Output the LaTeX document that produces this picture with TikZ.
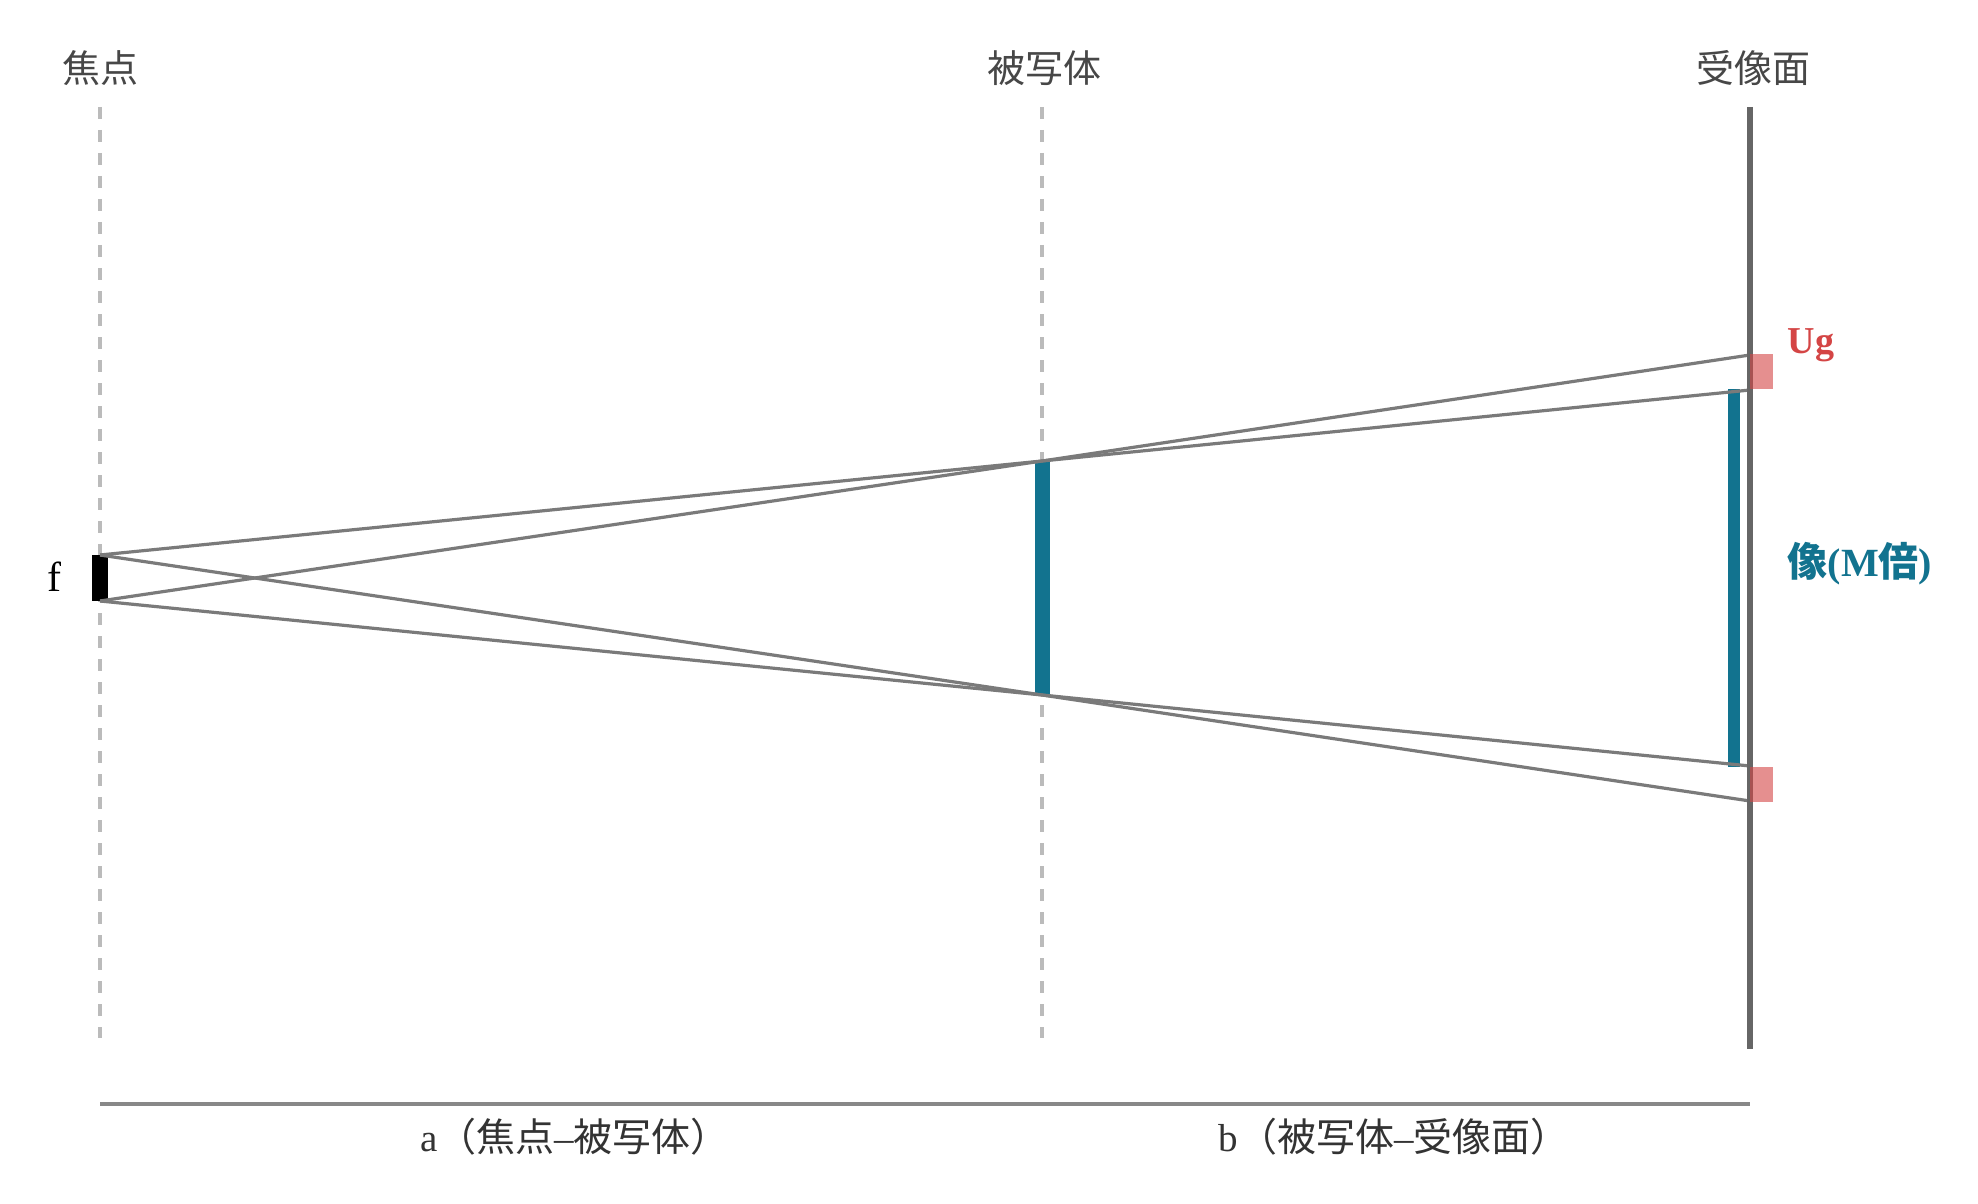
\documentclass[tikz,border=0pt]{standalone}
\usepackage{fontspec}
\setmainfont{Liberation Serif}
\newfontfamily\jpfont{Noto Sans CJK JP}
\definecolor{guidegray}{HTML}{BBBBBB}
\definecolor{raygray}{HTML}{7A7A7A}
\definecolor{screengray}{HTML}{666666}
\definecolor{axisgray}{HTML}{888888}
\definecolor{labelgray}{HTML}{474747}
\definecolor{imgblue}{HTML}{12738F}
\definecolor{ugred}{HTML}{D44545}

\begin{document}
\begin{tikzpicture}[x=0.5pt,y=-0.5pt,
    guide/.style={draw=guidegray,line width=2pt,dash pattern=on 6pt off 5.5pt},
    ray/.style={draw=raygray,line width=1.6pt},
    title/.style={text=labelgray,inner sep=0pt,font=\fontsize{19}{21}\selectfont\jpfont}]
    \tikzstyle{bar}=[draw=imgblue]
    \tikzstyle{dist}=[text=black!80,inner sep=0pt,font=\fontsize{19.5}{22}\selectfont]
    \useasboundingbox (0,0) rectangle (1978,1204);

    % planes
    \node[title] (focus) at (100,68) {焦点};
    \node[title] (object) at (1044,68) {被写体};
    \node[title] (screen) at (1753,68) {受像面};
    \draw[guide] (100,107) -- (100,1038);
    \draw[guide] (1042,107) -- (1042,1038);

    \coordinate (ft) at (100,555);
    \coordinate (fb) at (100,601);
    \coordinate (ot) at (1042,461);
    \coordinate (ob) at (1042,695);
    \coordinate (s1) at (1750,355);
    \coordinate (s2) at (1750,390);
    \coordinate (s3) at (1750,766);
    \coordinate (s4) at (1750,801);

    \draw[line width=8pt] (ft) -- (fb);
    \node[inner sep=0pt,font=\fontsize{21}{23}\selectfont] (f) at (54,577) {f};
    \draw[bar,line width=7.5pt] (ot) -- (ob);
    \draw[bar,line width=6pt] (1734,389) -- (1734,767);

    \draw[ray] (ft) -- (ot) -- (s2);
    \draw[ray] (fb) -- (ot) -- (s1);
    \draw[ray] (fb) -- (ob) -- (s3);
    \draw[ray] (ft) -- (ob) -- (s4);

    \draw[draw=screengray,line width=3pt] (1750,107) -- (1750,1049);
    \fill[ugred,opacity=0.6] (1750,354) rectangle (1773,389);
    \fill[ugred,opacity=0.6] (1750,767) rectangle (1773,802);
    \node[text=ugred,inner sep=0pt,font=\fontsize{19}{21}\selectfont\bfseries] (ug) at (1811,345) {Ug};
    \node[text=imgblue,inner sep=0pt,font=\fontsize{20}{22}\selectfont\bfseries] (img) at (1860,564) {{\jpfont 像}(M{\jpfont 倍})};

    % distances
    \draw[draw=axisgray,line width=1.6pt] (100,1104) -- (1750,1104);
    \node[dist] (a) at (575,1137) {a{\jpfont （焦点}–{\jpfont 被写体）}};
    \node[dist] (b) at (1394,1137) {b{\jpfont （被写体}–{\jpfont 受像面）}};
\end{tikzpicture}
\end{document}
